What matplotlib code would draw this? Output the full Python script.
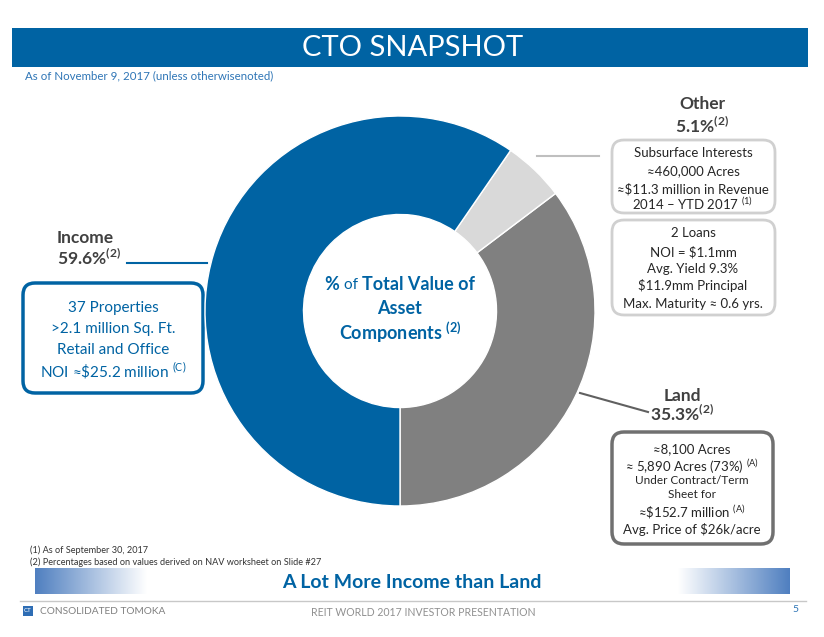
import numpy as np
import matplotlib
matplotlib.use("Agg")
import matplotlib.pyplot as plt
from matplotlib.patches import FancyBboxPatch, Rectangle
from matplotlib.colors import LinearSegmentedColormap

# --- chart data ---
segments = ["Land", "Other", "Income"]
shares = [35.3, 5.1, 59.6]
seg_colors = ["#808080", "#D9D9D9", "#0063A3"]

other_lines = ["Subsurface Interests", "≈460,000 Acres",
               "≈$11.3 million in Revenue", r"2014 – YTD 2017 $^{\mathregular{(1)}}$"]
loan_lines = ["2 Loans", "NOI = $1.1mm", "Avg. Yield 9.3%",
              "$11.9mm Principal", "Max. Maturity ≈ 0.6 yrs."]
income_lines = ["37 Properties", ">2.1 million Sq. Ft.",
                "Retail and Office", r"NOI ≈\$25.2 million $^{\mathregular{(C)}}$"]
land_lines = ["≈8,100 Acres", r"≈ 5,890 Acres (73%) $^{\mathregular{(A)}}$",
              "Under Contract/Term", "Sheet for",
              r"≈\$152.7 million $^{\mathregular{(A)}}$", "Avg. Price of $26k/acre"]
land_sizes = [9.5, 9.5, 8.5, 8.5, 9.5, 9.5]
footnotes = ["(1) As of September 30, 2017",
             "(2) Percentages based on values derived on NAV worksheet on Slide #27"]

BLUE = "#0063A3"
DARK = "#404040"
W, H = 824, 637

plt.rcParams['font.family'] = ['Lato', 'DejaVu Sans']
plt.rcParams['mathtext.fontset'] = 'custom'
plt.rcParams['mathtext.rm'] = 'Lato'
plt.rcParams['mathtext.bf'] = 'Lato:bold'

fig = plt.figure(figsize=(W / 100, H / 100), dpi=100)
bg = fig.add_axes([0, 0, 1, 1])
bg.set_xlim(0, W)
bg.set_ylim(H, 0)
bg.axis("off")

# header bar
bg.add_patch(Rectangle((12, 28), 796, 39, color=BLUE, lw=0))
bg.text(413, 48, "CTO SNAPSHOT", color="white", fontsize=21,
        fontweight="normal", ha="center", va="center")
bg.text(25, 76, "As of November 9, 2017 (unless otherwisenoted)",
        color="#2E75B6", fontsize=8.3, ha="left", va="center")

# donut
cx, cy, r = 400, 311, 195
pie_ax = fig.add_axes([(cx - r) / W, (H - cy - r) / H, 2 * r / W, 2 * r / H])
pie_ax.pie(shares, colors=seg_colors, startangle=-90, counterclock=True,
           radius=1, wedgeprops=dict(width=0.505, edgecolor="white", linewidth=1))
pie_ax.set_xlim(-1, 1)
pie_ax.set_ylim(-1, 1)
pie_ax.axis("off")

# centre caption, "of" in lighter weight
fig.canvas.draw()
rend = fig.canvas.get_renderer()
parts = [("% ", "bold", 13), ("of ", "normal", 11), ("Total Value of", "bold", 13)]
widths = []
for s, wt, sz in parts:
    t = bg.text(0, 0, s, fontsize=sz, fontweight=wt)
    widths.append(t.get_window_extent(rend).width)
    t.remove()
x0 = cx - sum(widths) / 2
for (s, wt, sz), w in zip(parts, widths):
    bg.text(x0, 285, s, color=BLUE, fontsize=sz, fontweight=wt,
            ha="left", va="center", zorder=5)
    x0 += w
bg.text(cx, 308, "Asset", color=BLUE, fontsize=13, fontweight="bold",
        ha="center", va="center", zorder=5)
bg.text(cx, 332, r"Components $^{\mathregular{(2)}}$", color=BLUE, fontsize=13,
        fontweight="bold", ha="center", va="center", zorder=5)


def box(x, y, w, h, edge, lw):
    bg.add_patch(FancyBboxPatch((x, y), w, h,
                                boxstyle="round,pad=0,rounding_size=12",
                                fc="white", ec=edge, lw=lw))


def lines_text(xc, ys, lines, color, sizes):
    for yy, s, sz in zip(ys, lines, sizes):
        bg.text(xc, yy, s, color=color, fontsize=sz, ha="center", va="center")


def pct(v):
    return f"{v}%" + r"$^{\mathbf{(2)}}$"


# Other
bg.text(702, 104, segments[1], color=DARK, fontsize=12.5, fontweight="bold",
        ha="center", va="center")
bg.text(702, 126, pct(shares[1]), color=DARK,
        fontsize=12.5, fontweight="bold", ha="center", va="center")
bg.plot([537, 599], [156, 156], color="#BFBFBF", lw=1.5)
box(612, 140, 163, 73, "#D0D0D0", 2)
lines_text(693, [153, 171, 189, 204], other_lines, "#262626", [9.5] * 4)
box(612, 220, 163, 95, "#D0D0D0", 2)
lines_text(693, [233, 252, 269, 286, 304], loan_lines, "#262626", [9.5] * 5)

# Income
bg.text(57, 238, segments[2], color=DARK, fontsize=12.5, fontweight="bold",
        ha="left", va="center")
bg.text(57, 258, pct(shares[2]), color=DARK,
        fontsize=12.5, fontweight="bold", ha="left", va="center")
bg.plot([127, 207], [263, 263], color=BLUE, lw=1.5)
box(23, 283, 180, 110, BLUE, 2.5)
lines_text(113, [308, 329, 350, 371], income_lines, BLUE, [11] * 4)

# Land
bg.plot([580, 648], [393, 412], color="#606060", lw=1.5)
bg.text(682, 396, segments[0], color=DARK, fontsize=12.5, fontweight="bold",
        ha="center", va="center")
bg.text(682, 414, pct(shares[0]), color=DARK,
        fontsize=12.5, fontweight="bold", ha="center", va="center")
box(612, 432, 161, 112, "#707070", 2.5)
lines_text(692, [449, 467, 481, 495, 512, 530], land_lines, "#262626", land_sizes)

# footnotes
for yy, s in zip([550, 562], footnotes):
    bg.text(30, yy, s, color="#333333", fontsize=6.6, ha="left", va="center")

# bottom band with gradients
grad = np.linspace(0, 1, 256).reshape(1, -1)
cmap = LinearSegmentedColormap.from_list("band", ["white", "#4F7FC0"])
bg.imshow(grad[:, ::-1], extent=(35, 147, 594, 568), cmap=cmap, aspect="auto")
bg.imshow(grad, extent=(678, 790, 594, 568), cmap=cmap, aspect="auto")
bg.set_xlim(0, W)
bg.set_ylim(H, 0)
bg.text(412, 582, "A Lot More Income than Land", color=BLUE, fontsize=14,
        fontweight="bold", ha="center", va="center")

# footer
bg.plot([20, 806], [601, 601], color="#C8C8C8", lw=1)
bg.add_patch(Rectangle((23, 606), 10, 10, color="#2E6DB4", lw=0))
bg.text(28, 611, "CT", color="white", fontsize=4.5, ha="center", va="center")
bg.text(40, 611, "CONSOLIDATED TOMOKA", color="#808080", fontsize=7.3,
        ha="left", va="center")
bg.text(423, 612, "REIT WORLD 2017 INVESTOR PRESENTATION", color="#909090",
        fontsize=7.6, ha="center", va="center")
bg.text(795, 610, "5", color="#2E75B6", fontsize=7.5, ha="center", va="center")

fig.savefig("out.png", dpi=100)
